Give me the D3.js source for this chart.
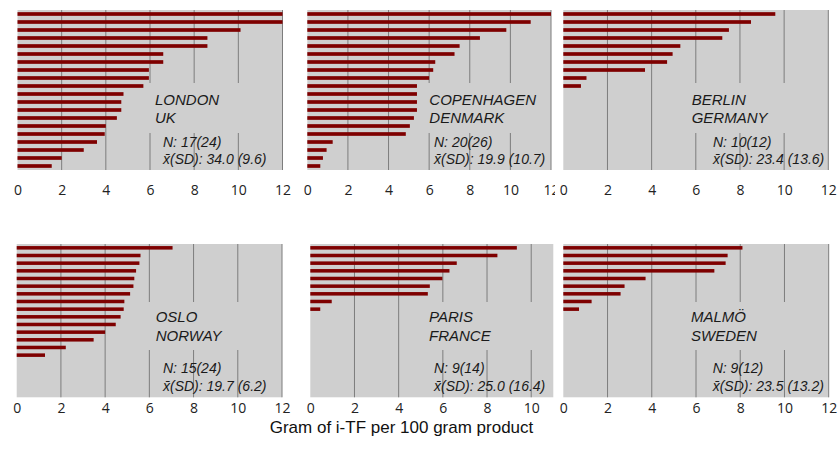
<!DOCTYPE html>
<html>
<head>
<meta charset="utf-8">
<script src="https://cdn.jsdelivr.net/npm/d3@7"></script>
<style>
  body { margin: 0; background: #fff; }
  .city { font-family: "Liberation Sans", Arial, sans-serif; font-style: italic; font-size: 15px; fill: #1a1a1a; }
  .stat { font-family: "Liberation Sans", Arial, sans-serif; font-style: italic; font-size: 14px; fill: #1a1a1a; }
  .title { font-family: "Liberation Sans", Arial, sans-serif; font-size: 17px; fill: #111; }
</style>
</head>
<body>
<div id="chart"></div>
<script>
// data (g i-TF per 100 g product, one bar per product)
const cities = ["LONDON", "COPENHAGEN", "BERLIN", "OSLO", "PARIS", "MALMÖ"];
const countries = ["UK", "DENMARK", "GERMANY", "NORWAY", "FRANCE", "SWEDEN"];
const sampleLabels = ["N: 17(24)", "N: 20(26)", "N: 10(12)", "N: 15(24)", "N: 9(14)", "N: 9(12)"];
const meanLabels = ["x̄(SD): 34.0 (9.6)", "x̄(SD): 19.9 (10.7)", "x̄(SD): 23.4 (13.6)",
                    "x̄(SD): 19.7 (6.2)", "x̄(SD): 25.0 (16.4)", "x̄(SD): 23.5 (13.2)"];
const axisMax = [12, 12, 12, 12, 11, 12];
const tickValues = [0, 2, 4, 6, 8, 10, 12];
const slotCount = 20;

const londonValues = [12, 12, 10.1, 8.6, 8.6, 6.6, 6.6, 5.95, 5.95, 5.7, 4.8, 4.7, 4.7, 4.5, 4.0, 3.95, 3.6, 3.0, 2.0, 1.55];
const copenhagenValues = [12, 11.0, 9.8, 8.5, 7.5, 7.25, 6.3, 6.2, 6.0, 5.4, 5.4, 5.4, 5.4, 5.25, 5.05, 4.85, 1.25, 0.95, 0.77, 0.64];
const berlinValues = [9.6, 8.5, 7.5, 7.2, 5.3, 4.95, 4.7, 3.7, 1.05, 0.8];
const osloValues = [7.05, 5.6, 5.55, 5.4, 5.32, 5.28, 5.13, 4.87, 4.84, 4.7, 4.48, 4.0, 3.48, 2.22, 1.28];
const parisValues = [9.35, 8.47, 6.63, 6.3, 5.98, 5.41, 5.32, 0.97, 0.45];
const malmoValues = [8.1, 7.43, 7.34, 6.83, 3.72, 2.77, 2.59, 1.28, 0.71];

const seriesValues = [londonValues, copenhagenValues, berlinValues, osloValues, parisValues, malmoValues];

// layout of the six panels (pixels)
const panelBoxes = [
  {x0: 17.5,  x1: 282.5, row: 0, labelDx: 137.5, statDx: 145.5, clipRight: null},
  {x0: 307.3, x1: 551,   row: 0, labelDx: 122,   statDx: 126.7, clipRight: 555},
  {x0: 563.3, x1: 828.3, row: 0, labelDx: 128.4, statDx: 149.7, clipRight: null},
  {x0: 16.7,  x1: 282,   row: 1, labelDx: 139,   statDx: 146.3, clipRight: null},
  {x0: 310.3, x1: 553.3, row: 1, labelDx: 118.7, statDx: 123.7, clipRight: null},
  {x0: 563.3, x1: 828.7, row: 1, labelDx: 127.7, statDx: 149.4, clipRight: null}
];
const rows = [
  {y0: 10,  y1: 170,   lines: [105, 123, 147, 164], box: [83, 133],  tickPad: 15},
  {y0: 244, y1: 397.3, lines: [322, 341, 373, 391], box: [302, 350], tickPad: 5.8}
];

const width = 838, height = 460;
const svg = d3.select("#chart")
  .append("svg")
    .attr("width", width)
    .attr("height", height);

const defs = svg.append("defs");

panelBoxes.forEach(function(p, i) {
  const row = rows[p.row];
  const g = svg.append("g");

  const xScale = d3.scaleLinear()
    .domain([0, axisMax[i]])
    .range([p.x0, p.x1]);

  const yScale = d3.scaleBand()
    .domain(d3.range(slotCount))
    .range([row.y0, row.y1])
    .paddingInner(0.54)
    .paddingOuter(0.27);

  // plot background
  g.append("rect")
      .attr("x", p.x0)
      .attr("y", row.y0)
      .attr("width", p.x1 - p.x0)
      .attr("height", row.y1 - row.y0)
      .attr("fill", "#cfcfcf");

  // vertical grid lines
  g.append("g")
    .selectAll("line")
    .data(tickValues.filter(function(t) { return t > 0 && t <= axisMax[i]; }))
    .enter()
    .append("line")
      .attr("x1", function(d) { return xScale(d); })
      .attr("x2", function(d) { return xScale(d); })
      .attr("y1", row.y0)
      .attr("y2", row.y1)
      .attr("stroke", "#7d7d7d")
      .attr("stroke-width", 1);

  // bars
  g.append("g")
    .selectAll("rect")
    .data(seriesValues[i])
    .enter()
    .append("rect")
      .attr("x", xScale(0))
      .attr("y", function(d, j) { return yScale(j); })
      .attr("width", function(d) { return xScale(Math.min(d, axisMax[i])) - xScale(0); })
      .attr("height", yScale.bandwidth())
      .attr("fill", "#7e0000");

  // gray box behind the city name
  g.append("rect")
      .attr("x", p.x0 + p.labelDx - 9)
      .attr("y", row.box[0])
      .attr("width", p.x1 - (p.x0 + p.labelDx - 9) - 3)
      .attr("height", row.box[1] - row.box[0])
      .attr("fill", "#cfcfcf");

  // x axis
  const axisG = g.append("g")
      .attr("transform", "translate(0," + row.y1 + ")")
      .call(d3.axisBottom(xScale)
        .tickValues(tickValues.filter(function(t) { return t <= axisMax[i]; }))
        .tickSize(0)
        .tickPadding(row.tickPad))
      .attr("font-family", "Open Sans, sans-serif")
      .attr("font-size", 14)
      .call(function(a) { a.select(".domain").remove(); })
      .call(function(a) { a.selectAll("text").attr("fill", "#222"); });

  // labels cut where the next panel starts
  if (p.clipRight) {
    defs.append("clipPath")
        .attr("id", "clip" + i)
      .append("rect")
        .attr("x", p.x0 - 20)
        .attr("y", 0)
        .attr("width", p.clipRight - p.x0 + 20)
        .attr("height", 40);
    axisG.attr("clip-path", "url(#clip" + i + ")");
  }

  // labels
  const lx = p.x0 + p.labelDx, sx = p.x0 + p.statDx;
  g.append("text").attr("class", "city").attr("x", lx).attr("y", row.lines[0]).text(cities[i]);
  g.append("text").attr("class", "city").attr("x", lx).attr("y", row.lines[1]).text(countries[i]);
  g.append("text").attr("class", "stat").attr("x", sx).attr("y", row.lines[2]).text(sampleLabels[i]);
  g.append("text").attr("class", "stat").attr("x", sx).attr("y", row.lines[3]).text(meanLabels[i]);
});

// axis title
svg.append("text")
    .attr("class", "title")
    .attr("x", 401.5)
    .attr("y", 433)
    .attr("text-anchor", "middle")
    .text("Gram of i-TF per 100 gram product");
</script>
</body>
</html>
